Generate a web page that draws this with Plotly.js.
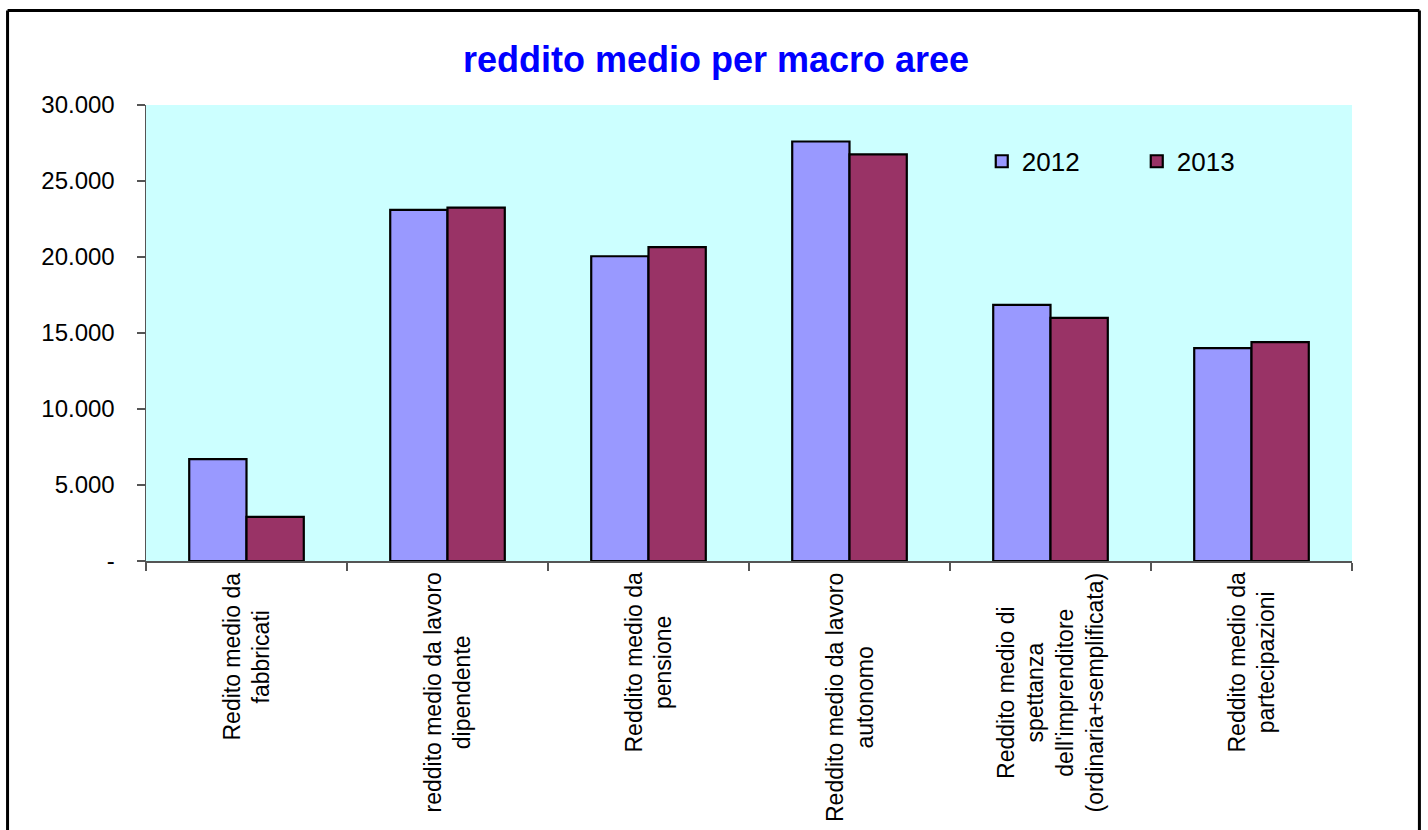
<!DOCTYPE html>
<html>
<head>
<meta charset="utf-8">
<script src="https://cdn.plot.ly/plotly-3.0.1.min.js"></script>
<style>
  html, body { margin: 0; padding: 0; background: #ffffff; }
  #chart { width: 1428px; height: 830px; }
</style>
</head>
<body>
<div id="chart"></div>
<script>
// ---- Data ----
const categories = [
  "Redito medio da<br>fabbricati",
  "reddito medio da lavoro<br>dipendente",
  "Reddito medio da<br>pensione",
  "Reddito medio da lavoro<br>autonomo",
  "Reddito medio di<br>spettanza<br>dell'imprenditore<br>(ordinaria+semplificata)",
  "Reddito medio da<br>partecipazioni"
];
const values2012 = [6700, 23100, 20050, 27600, 16850, 14000];
const values2013 = [2900, 23250, 20650, 26750, 16000, 14400];
const seriesNames = ["2012", "2013"];
const yTickVals = [0, 5000, 10000, 15000, 20000, 25000, 30000];
const yTickText = ["-", "5.000", "10.000", "15.000", "20.000", "25.000", "30.000"];
const titleText = "reddito medio per macro aree";

const FONT = "Arial, 'Liberation Sans', sans-serif";

const traces = [
  {
    type: "bar", name: seriesNames[0], x: categories, y: values2012,
    marker: { color: "#9999FF", line: { color: "#000000", width: 2.2 } },
    hoverinfo: "y+name"
  },
  {
    type: "bar", name: seriesNames[1], x: categories, y: values2013,
    marker: { color: "#993366", line: { color: "#000000", width: 2.2 } },
    hoverinfo: "y+name"
  }
];

const annotations = categories.map(c => ({
  x: c, xref: "x", y: 0, yref: "paper",
  yanchor: "top", xanchor: "center", yshift: -10,
  text: c, showarrow: false, textangle: -90, align: "center",
  font: { family: FONT, size: 23, color: "#000000" }
}));

const layout = {
  width: 1428, height: 830,
  margin: { l: 146, r: 76, t: 105, b: 269 },
  paper_bgcolor: "#ffffff",
  plot_bgcolor: "#CCFFFF",
  title: {
    text: "<b>" + titleText + "</b>",
    font: { family: FONT, size: 36, color: "#0000FF" },
    xref: "container", x: 0.5014, xanchor: "center",
    yref: "container", y: 0.9285, yanchor: "middle"
  },
  barmode: "group",
  bargap: 0.43,
  bargroupgap: 0,
  xaxis: {
    type: "category",
    showticklabels: false,
    tickson: "boundaries",
    ticks: "outside", ticklen: 8, tickcolor: "#555555", tickwidth: 1.5,
    showline: true, linecolor: "#555555", linewidth: 1.5,
    showgrid: false, zeroline: false, fixedrange: true
  },
  yaxis: {
    range: [0, 30000],
    tickvals: yTickVals, ticktext: yTickText,
    ticks: "outside", ticklen: 8, tickcolor: "#555555", tickwidth: 1.5,
    ticklabelstandoff: 17,
    showline: true, linecolor: "#555555", linewidth: 1.5,
    showgrid: false, zeroline: false, fixedrange: true,
    tickfont: { family: FONT, size: 24, color: "#000000" }
  },
  legend: {
    orientation: "h",
    x: 0.693, xanchor: "left",
    y: 0.928, yanchor: "top",
    bgcolor: "rgba(0,0,0,0)",
    font: { family: FONT, size: 26, color: "#000000" },
    entrywidth: 110, entrywidthmode: "pixels",
    traceorder: "normal"
  },
  annotations: annotations,
  shapes: [
    { type: "line", xref: "paper", yref: "paper", x0: -0.1148, x1: -0.1148, y0: 1.2072, y1: -1.0, line: { color: "#000000", width: 3 } },
    { type: "line", xref: "paper", yref: "paper", x0: 1.0559, x1: 1.0559, y0: 1.2072, y1: -1.0, line: { color: "#000000", width: 3 } },
    { type: "line", xref: "paper", yref: "paper", x0: -0.1148, x1: 1.0559, y0: 1.2072, y1: 1.2072, line: { color: "#000000", width: 3 } }
  ],
  showlegend: true
};

Plotly.newPlot("chart", traces, layout, { displayModeBar: false, staticPlot: true });
</script>
</body>
</html>
